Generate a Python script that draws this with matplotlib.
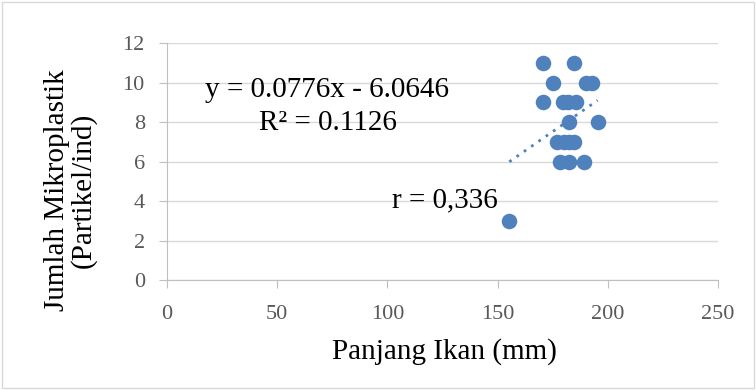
import numpy as np
import matplotlib as mpl
mpl.use('Agg')
import matplotlib.pyplot as plt

# fish length (mm) vs microplastic count (particles/ind)
panjang = [170.6, 184.6, 175.2, 190.3, 192.9, 170.6, 179.5, 182.0, 185.8,
           182.3, 195.4, 177.0, 180.0, 182.5, 184.6, 178.5, 182.3, 189.4, 155.3]
jumlah = [11, 11, 10, 10, 10, 9, 9, 9, 9,
          8, 8, 7, 7, 7, 7, 6, 6, 6, 3]

slope, intercept = 0.0776, -6.0646
r_text = 'r = 0,336'

plt.rcParams['font.family'] = ['Liberation Serif', 'DejaVu Serif']

fig = plt.figure(figsize=(7.56, 3.9), dpi=100)
ax = fig.add_axes([0.2209, 0.282, 0.7288, 0.6077])

ax.scatter(panjang, jumlah, s=125, color='#4F81BD', zorder=3, linewidths=0)

xs = np.linspace(min(panjang), max(panjang), 20)
ax.plot(xs, slope * xs + intercept, linestyle=(0, (1, 2.2)), color='#4F81BD', lw=2, zorder=2)

ax.set_xlim(0, 250)
ax.set_ylim(0, 12)
ax.set_xticks(range(0, 251, 50))
ax.set_yticks(range(0, 13, 2))
ax.grid(axis='y', color='#d9d9d9', lw=1)
ax.set_axisbelow(True)
for s in ['top', 'right']:
    ax.spines[s].set_visible(False)
for s in ['left', 'bottom']:
    ax.spines[s].set_color('#bfbfbf')
ax.tick_params(colors='#bfbfbf', labelcolor='#595959', labelsize=16, length=6)
ax.tick_params(axis='y', pad=10)
ax.tick_params(axis='x', pad=12)

fig.text(444 / 756, 1 - 352 / 390, 'Panjang Ikan (mm)', fontsize=21, ha='center', va='center')
fig.text(70 / 756, 1 - 190 / 390, 'Jumlah Mikroplastik\n(Partikel/ind)', fontsize=21,
         ha='center', va='center', rotation=90, multialignment='center', linespacing=1.0)

ax.text(72.7, 9.6, 'y = 0.0776x - 6.0646', fontsize=21, ha='center', va='center')
ax.text(73, 7.95, 'R² = 0.1126', fontsize=21, ha='center', va='center')
ax.text(150, 4.05, r_text, fontsize=21, ha='right', va='center')

fig.patches.append(plt.Rectangle((0.003, 0.005), 0.994, 0.99, transform=fig.transFigure,
                                 fill=False, edgecolor='#d9d9d9', lw=1))

plt.savefig('out.png', dpi=100)
